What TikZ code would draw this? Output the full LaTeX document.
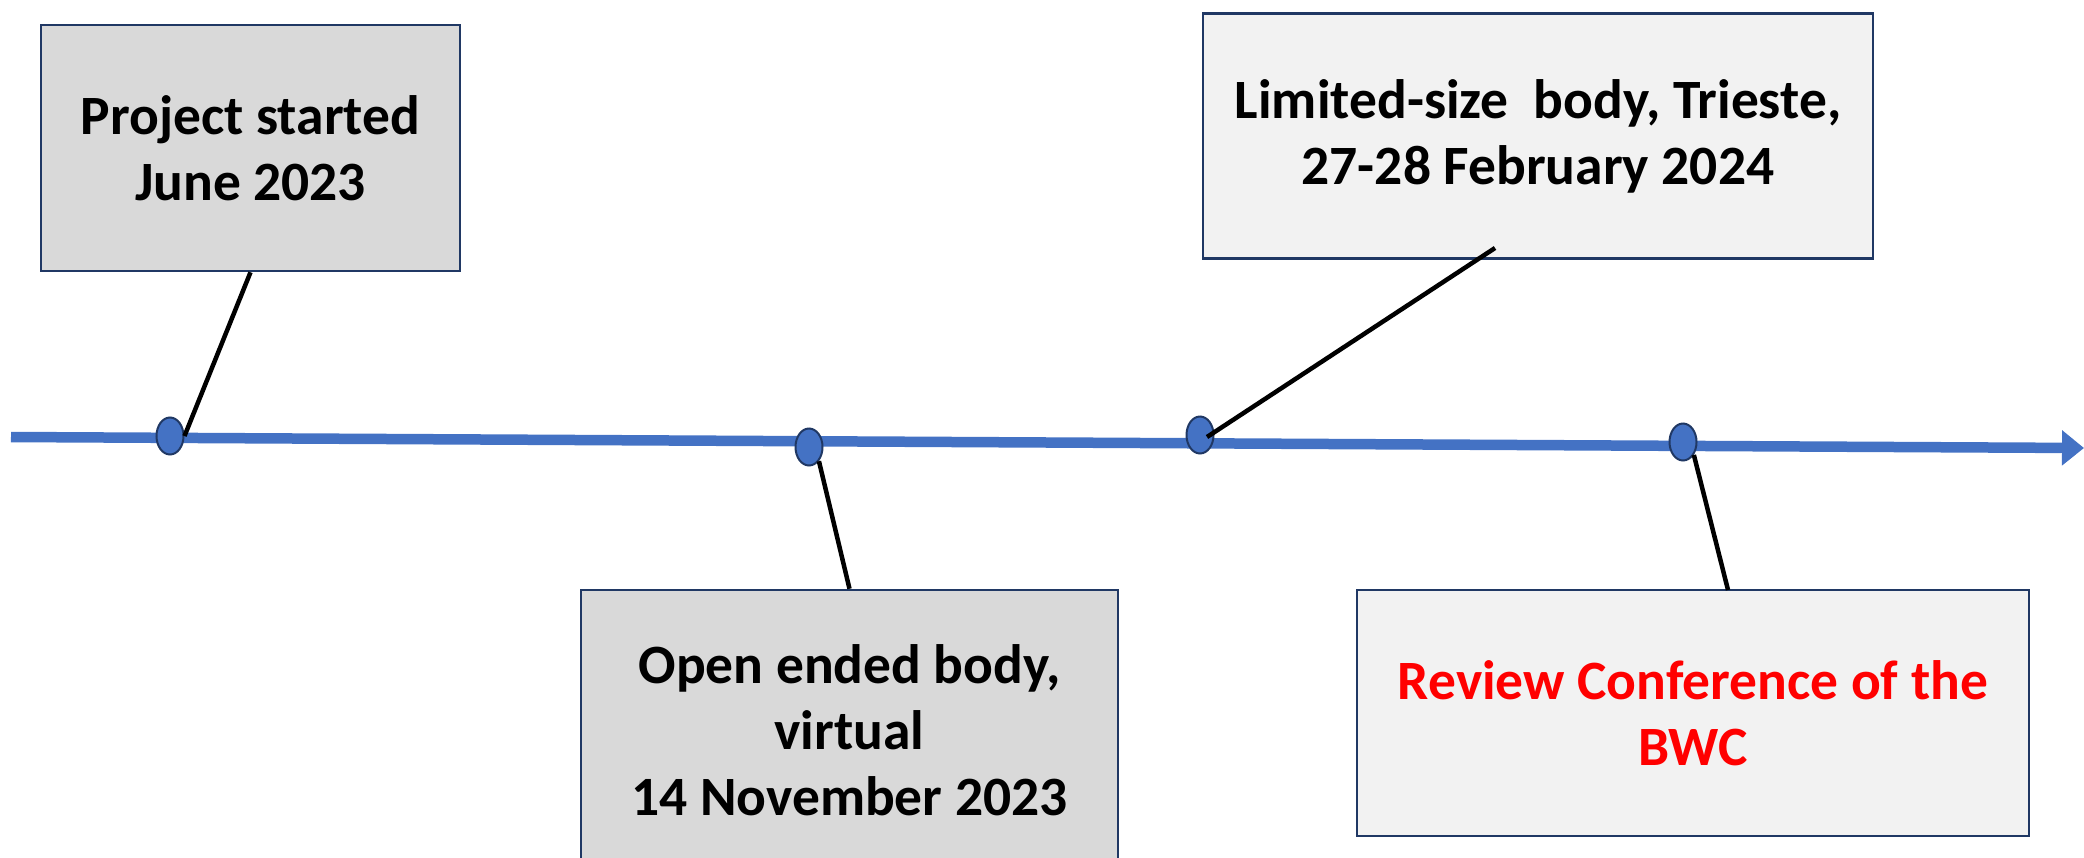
\documentclass[tikz,border=0pt]{standalone}
\usepackage{fontspec}
\setmainfont{Carlito}
\usetikzlibrary{shapes.geometric,arrows.meta}
\definecolor{tlblue}{HTML}{4472C4}
\definecolor{navy}{HTML}{203864}
\definecolor{boxdark}{HTML}{D9D9D9}
\definecolor{boxlight}{HTML}{F2F2F2}
\definecolor{redtxt}{HTML}{FF0000}
\begin{document}
\begin{tikzpicture}[x=1pt,y=-1pt,
  evbox/.style={draw=navy,line width=2.5pt,inner sep=0pt,align=center,
    font=\fontsize{55.5}{66}\selectfont\bfseries},
  evdot/.style={ellipse,draw=navy,fill=tlblue,line width=2pt,
    minimum width=27pt,minimum height=37pt,inner sep=0pt},
  link/.style={line width=4.5pt,black},
  axisline/.style={draw=tlblue,line width=10.5pt,-{Triangle[length=22pt,width=34pt]}}]
\useasboundingbox (0,0) rectangle (2084,857);
\clip (0,0) rectangle (2084,857);
% boxes
\node[evbox,fill=boxdark,minimum width=419pt,minimum height=246pt] (b1) at (250.5,148)
  {Project started\\June 2023};
\node[evbox,fill=boxdark,minimum width=537pt,minimum height=280pt] (b2) at (849.5,730)
  {Open ended body,\\virtual\\14 November 2023};
\node[evbox,fill=boxlight,minimum width=670pt,minimum height=245pt] (b3) at (1538,136)
  {Limited-size\ \ body, Trieste,\\27-28 February 2024};
\node[evbox,fill=boxlight,text=redtxt,minimum width=672pt,minimum height=246pt] (b4) at (1693,713)
  {Review Conference of the\\BWC};
% axis
\coordinate (tl0) at (11,437);
\coordinate (tl1) at (2084,448);
\draw[axisline] (tl0) -- (tl1);
% dots
\node[evdot] (d1) at (170,436) {};
\node[evdot] (d2) at (809,447) {};
\node[evdot] (d3) at (1200,435) {};
\node[evdot] (d4) at (1683,442) {};
% connectors
\coordinate (c3a) at (1207,437);
\coordinate (c3b) at (1495,248);
\coordinate (c4b) at (1728,590);
\draw[link] (b1.south) -- (d1.east);
\draw[link] (d2.-55) -- (b2.north);
\draw[link] (c3a) -- (c3b);
\draw[link] (d4.-50) -- (c4b);
\end{tikzpicture}
\end{document}
